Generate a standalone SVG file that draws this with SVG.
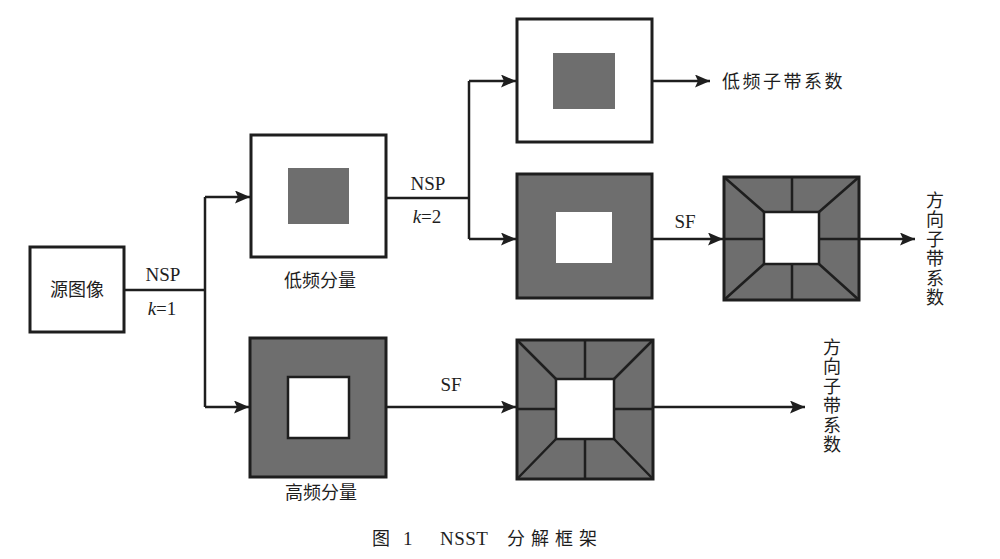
<svg xmlns="http://www.w3.org/2000/svg" width="1000" height="559" viewBox="0 0 1000 559">
  <style>
    .box { fill: #ffffff; stroke: #1e1e1e; stroke-width: 3; }
    .gbox { fill: #6e6e6e; stroke: #1e1e1e; stroke-width: 3; }
    .gray { fill: #6e6e6e; stroke: none; }
    .hole { fill: #ffffff; stroke: #1e1e1e; stroke-width: 2.5; }
    .hole0 { fill: #ffffff; stroke: none; }
    .seg { stroke: #1e1e1e; stroke-width: 2.5; fill: none; }
    .wire { stroke: #1e1e1e; stroke-width: 2.5; fill: none; }
    .arr { marker-end: url(#ah); }
    .cn { font-family: "Noto Sans CJK SC", sans-serif; font-size: 18px; fill: #1e1e1e; }
    .vt { writing-mode: vertical-rl; text-orientation: upright; letter-spacing: 1.5px; }
    .lat { font-family: "Liberation Serif", serif; font-size: 19px; fill: #1e1e1e; }
  </style>
  <defs>
    <marker id="ah" markerUnits="userSpaceOnUse" markerWidth="16" markerHeight="14" refX="15" refY="6.5" orient="auto">
      <path d="M0,0 L15,6.5 L0,13 L3,6.5 Z" fill="#1e1e1e"/>
    </marker>
  </defs>
  <rect width="1000" height="559" fill="#ffffff"/>

  <g id="connectors">
    <path class="wire" d="M124,290 H205"/>
    <path class="wire" d="M205,197 V407"/>
    <path class="wire arr" d="M205,197 H250"/>
    <path class="wire arr" d="M205,407 H249"/>
    <path class="wire" d="M386,198 H469"/>
    <path class="wire" d="M469,81 V239"/>
    <path class="wire arr" d="M469,81 H516"/>
    <path class="wire arr" d="M469,239 H516"/>
    <path class="wire arr" d="M652,81 H710"/>
    <path class="wire arr" d="M652,239 H723"/>
    <path class="wire arr" d="M859,239 H915"/>
    <path class="wire arr" d="M386,407 H516"/>
    <path class="wire arr" d="M653,407 H805"/>
    <text class="lat" x="163" y="281" text-anchor="middle">NSP</text>
    <text class="lat" x="162" y="315" text-anchor="middle"><tspan font-style="italic">k</tspan>=1</text>
    <text class="lat" x="428" y="190" text-anchor="middle">NSP</text>
    <text class="lat" x="427" y="223" text-anchor="middle"><tspan font-style="italic">k</tspan>=2</text>
    <text class="lat" x="685" y="228" text-anchor="middle">SF</text>
    <text class="lat" x="451" y="391" text-anchor="middle">SF</text>
  </g>

  <g id="source">
    <rect class="box" x="30" y="247" width="94" height="85"/>
    <text class="cn" x="77" y="296" text-anchor="middle" font-size="19">源图像</text>
  </g>

  <g id="lowfreq">
    <rect class="box" x="251" y="135" width="135" height="122"/>
    <rect class="gray" x="288" y="168" width="61" height="56"/>
    <text class="cn" x="320" y="287" text-anchor="middle" font-size="19">低频分量</text>
  </g>

  <g id="highfreq">
    <rect class="gbox" x="250" y="338" width="136" height="139"/>
    <rect class="hole" x="288" y="377" width="61" height="61"/>
    <text class="cn" x="321" y="499" text-anchor="middle" font-size="19">高频分量</text>
  </g>

  <g id="lowsub">
    <rect class="box" x="517" y="19" width="135" height="123"/>
    <rect class="gray" x="553" y="53" width="62" height="56"/>
    <text class="cn" x="722" y="88" letter-spacing="2.5">低频子带系数</text>
  </g>

  <g id="highsub2">
    <rect class="gbox" x="517" y="174" width="135" height="124"/>
    <rect class="hole0" x="556" y="212" width="56" height="51"/>
  </g>

  <g id="dir1">
    <rect class="gbox" x="724" y="177" width="135" height="123"/>
    <rect class="hole" x="764" y="212" width="55" height="52"/>
    <path class="seg" d="M724,177 L764,212 M859,177 L819,212 M724,300 L764,264 M859,300 L819,264 M792,177 V212 M792,264 V300 M724,239 H764 M819,239 H859"/>
    <text class="cn vt" x="935" y="191">方向子带系数</text>
  </g>

  <g id="dir2">
    <rect class="gbox" x="517" y="340" width="136" height="139"/>
    <rect class="hole" x="556" y="379" width="58" height="60"/>
    <path class="seg" d="M517,340 L556,379 M653,340 L614,379 M517,479 L556,439 M653,479 L614,439 M585,340 V379 M585,439 V479 M517,409 H556 M614,409 H653"/>
    <text class="cn vt" x="832" y="338">方向子带系数</text>
  </g>

  <g id="caption">
    <text class="cn" x="372" y="545" font-size="19">图</text>
    <text class="lat" x="403" y="545" font-size="21">1</text>
    <text class="lat" x="440" y="545" font-size="21" letter-spacing="0.5">NSST</text>
    <text class="cn" x="507" y="545" font-size="19" letter-spacing="6">分解框架</text>
  </g>
</svg>
